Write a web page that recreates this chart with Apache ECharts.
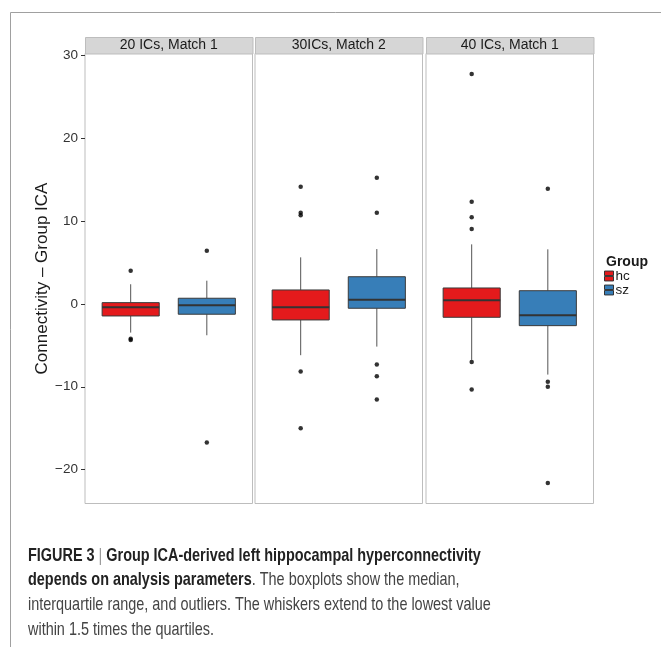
<!DOCTYPE html>
<html>
<head>
<meta charset="utf-8">
<script src="https://cdn.jsdelivr.net/npm/echarts@6/dist/echarts.min.js"></script>
<style>
html, body { margin: 0; padding: 0; background: #fff; }
#chart { width: 661px; height: 647px; }
</style>
</head>
<body>
<div id="chart"></div>
<script>
var panels = ['20 ICs, Match 1', '30ICs, Match 2', '40 ICs, Match 1'];
var groups = ['hc', 'sz'];
var groupColors = ['#e41a1c', '#377eb8'];
var yTicks = [-20, -10, 0, 10, 20, 30];

// [lower whisker, Q1, median, Q3, upper whisker], one row per panel
var hcBoxes = [
    [-3.46, -1.45, -0.40, 0.16, 2.38],
    [-6.19, -1.93, -0.40, 1.69, 5.63],
    [-6.75, -1.61, 0.45, 1.93, 7.20]
];
var szBoxes = [
    [-3.78, -1.24, -0.16, 0.69, 2.81],
    [-5.15, -0.52, 0.52, 3.29, 6.63],
    [-8.53, -2.62, -1.36, 1.60, 6.60]
];
var hcOutliers = [
    [4.02, -4.2, -4.35],
    [14.15, 11.01, 10.70, -8.17, -15.0],
    [27.78, 12.34, 10.46, 9.05, -7.0, -10.34]
];
var szOutliers = [
    [6.43, -16.73],
    [15.24, 11.01, -7.32, -8.72, -11.54],
    [13.91, -9.41, -10.01, -21.63]
];

var captionLines = [
    '{b|FIGURE 3 }{bar|| }{b|Group ICA-derived left hippocampal hyperconnectivity}',
    '{b|depends on analysis parameters}{n|. The boxplots show the median,}',
    '{n|interquartile range, and outliers. The whiskers extend to the lowest value}',
    '{n|within 1.5 times the quartiles.}'
];

var chart = echarts.init(document.getElementById('chart'));

var font = 'Liberation Sans, Arial, sans-serif';
var panelLeft = [85, 255, 426];
var panelWidth = 167.5;
var panelTop = 53.5;
var panelHeight = 450;
var boxWidth = 0.75;

function renderBox(params, api) {
    var x = api.value(0);
    var lo = api.coord([x, api.value(1)]);
    var q1 = api.coord([x, api.value(2)]);
    var med = api.coord([x, api.value(3)]);
    var q3 = api.coord([x, api.value(4)]);
    var hi = api.coord([x, api.value(5)]);
    var w = api.size([boxWidth, 0])[0];
    var color = api.visual('color');
    return {
        type: 'group',
        children: [
            { type: 'line', shape: { x1: hi[0], y1: hi[1], x2: q3[0], y2: q3[1] }, style: { stroke: '#555', lineWidth: 1 } },
            { type: 'line', shape: { x1: q1[0], y1: q1[1], x2: lo[0], y2: lo[1] }, style: { stroke: '#555', lineWidth: 1 } },
            { type: 'rect', shape: { x: q3[0] - w / 2, y: q3[1], width: w, height: q1[1] - q3[1] }, style: { fill: color, stroke: '#3a3a3a', lineWidth: 1 } },
            { type: 'line', shape: { x1: med[0] - w / 2, y1: med[1], x2: med[0] + w / 2, y2: med[1] }, style: { stroke: '#333', lineWidth: 2 } }
        ]
    };
}

var grids = [], xAxes = [], yAxes = [], series = [], graphics = [];

panels.forEach(function (label, i) {
    grids.push({
        left: panelLeft[i], top: panelTop, width: panelWidth, height: panelHeight,
        show: true, borderColor: '#bdbdbd', borderWidth: 1, backgroundColor: '#fff'
    });
    xAxes.push({
        gridIndex: i, type: 'value', min: 0.4, max: 2.6, show: false
    });
    yAxes.push({
        gridIndex: i, type: 'value', min: -24.1, max: 30.25,
        show: i === 0,
        name: i === 0 ? 'Connectivity \u2013 Group ICA' : '',
        nameLocation: 'middle', nameGap: 33, nameRotate: 90,
        nameTextStyle: { fontFamily: font, fontSize: 17, color: '#1a1a1a' },
        axisLine: { show: false },
        splitLine: { show: false },
        axisTick: { show: true, length: 4, customValues: yTicks, lineStyle: { color: '#333' } },
        axisLabel: {
            customValues: yTicks, margin: 7, fontFamily: font, fontSize: 13.5, color: '#333',
            formatter: function (v) { return String(v).replace('-', '\u2212'); }
        }
    });

    [hcBoxes, szBoxes].forEach(function (boxes, g) {
        series.push({
            name: groups[g], type: 'custom', xAxisIndex: i, yAxisIndex: i,
            itemStyle: { color: groupColors[g] },
            renderItem: renderBox,
            encode: { x: 0, y: [1, 2, 3, 4, 5] },
            data: [[g + 1].concat(boxes[i])],
            silent: true
        });
    });
    [hcOutliers, szOutliers].forEach(function (outs, g) {
        series.push({
            name: groups[g] + ' outliers', type: 'scatter', xAxisIndex: i, yAxisIndex: i,
            symbolSize: 4.5, itemStyle: { color: '#000' },
            data: outs[i].map(function (v) { return [g + 1, v]; }),
            silent: true
        });
    });

    // facet strip
    graphics.push({
        type: 'rect', left: panelLeft[i], top: 37,
        shape: { width: panelWidth, height: panelTop - 37 },
        style: { fill: '#d6d6d6', stroke: '#bdbdbd', lineWidth: 1 }
    });
    graphics.push({
        type: 'text', x: panelLeft[i] + panelWidth / 2, y: 45.5,
        style: { text: label, fontFamily: font, fontSize: 14, fill: '#1a1a1a', textAlign: 'center', textVerticalAlign: 'middle' }
    });
});

// figure frame
graphics.push({ type: 'line', shape: { x1: 10.5, y1: 12.5, x2: 661, y2: 12.5 }, style: { stroke: '#a0a0a0', lineWidth: 1 } });
graphics.push({ type: 'line', shape: { x1: 10.5, y1: 12.5, x2: 10.5, y2: 647 }, style: { stroke: '#a0a0a0', lineWidth: 1 } });

// legend title
graphics.push({
    type: 'text', x: 606, y: 262,
    style: { text: 'Group', fontFamily: font, fontSize: 14, fontWeight: 'bold', fill: '#1a1a1a', textVerticalAlign: 'middle' }
});

// caption, squeezed horizontally to mimic the condensed journal font
var capRich = {
    b: { fontFamily: font, fontSize: 18.5, fontWeight: 'bold', fill: '#222' },
    bar: { fontFamily: font, fontSize: 18.5, fontWeight: 'normal', fill: '#999' },
    n: { fontFamily: font, fontSize: 18.5, fontWeight: 'normal', fill: '#444' }
};
captionLines.forEach(function (line, k) {
    graphics.push({
        type: 'text', x: 28, y: 555.5 + k * 24.8, scaleX: 0.78,
        style: { text: line, rich: capRich, textVerticalAlign: 'middle' }
    });
});

var option = {
    animation: false,
    backgroundColor: '#fff',
    legend: {
        data: groups,
        orient: 'vertical', left: 604, top: 269,
        itemWidth: 9, itemHeight: 11, itemGap: 0, padding: 0,
        icon: 'path://M0,0H10V5H0Z M0,6H10V11H0Z',
        itemStyle: { borderColor: '#333', borderWidth: 1 },
        textStyle: { fontFamily: font, fontSize: 13.5, color: '#1a1a1a', padding: [0, 0, 0, -3] },
        selectedMode: false
    },
    grid: grids,
    xAxis: xAxes,
    yAxis: yAxes,
    series: series,
    graphic: graphics
};

chart.setOption(option);
</script>
</body>
</html>
